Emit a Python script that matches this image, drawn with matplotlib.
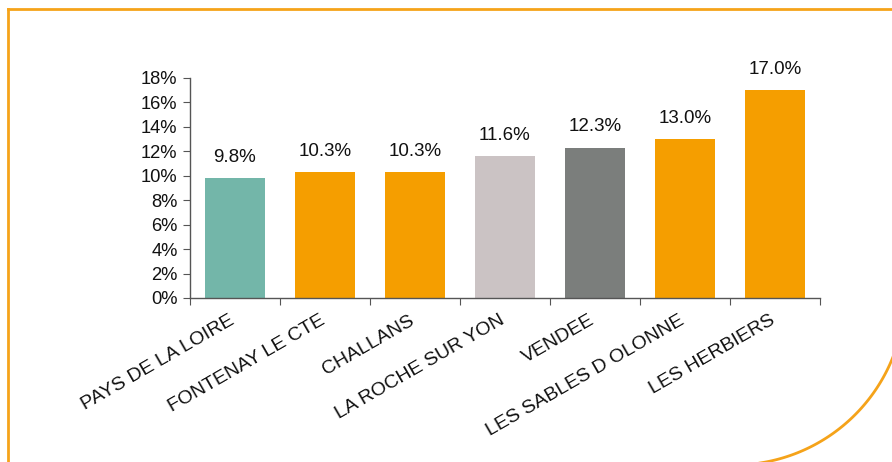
import numpy as np
import matplotlib
matplotlib.use("Agg")
import matplotlib.pyplot as plt
import matplotlib.transforms as mtransforms

plt.rcParams['font.family'] = ['Liberation Sans', 'DejaVu Sans']

# data
categories = ["PAYS DE LA LOIRE", "FONTENAY LE CTE", "CHALLANS", "LA ROCHE SUR YON",
              "VENDEE", "LES SABLES D OLONNE", "LES HERBIERS"]
values = [9.8, 10.3, 10.3, 11.6, 12.3, 13.0, 17.0]
value_labels = ["9.8%", "10.3%", "10.3%", "11.6%", "12.3%", "13.0%", "17.0%"]
colors = ["#73b6a9", "#f59e00", "#f59e00", "#cbc3c4", "#7b7e7c", "#f59e00", "#f59e00"]
yticks = [0, 2, 4, 6, 8, 10, 12, 14, 16, 18]

W, H = 892, 462
fig = plt.figure(figsize=(W / 100, H / 100), dpi=100)

# frame around the chart (left + top edge, big rounded corner bottom right)
bg = fig.add_axes([0, 0, 1, 1])
bg.set_xlim(0, W)
bg.set_ylim(H, 0)
bg.axis("off")
frame_col = "#f5a31a"
bg.plot([8, 8], [9, H], color=frame_col, lw=2)
bg.plot([8, W], [9, 9], color=frame_col, lw=2)
t = np.linspace(0, np.pi / 2, 100)
cx, cy, r = 734, 294, 171
bg.plot(cx + r * np.cos(t), cy + r * np.sin(t), color=frame_col, lw=2)

ax = fig.add_axes([190 / W, (H - 298) / H, (820 - 190) / W, 220 / H])
x = np.arange(len(categories))
ax.bar(x, values, width=0.67, color=colors)

for xi, v, lab in zip(x, values, value_labels):
    ax.annotate(lab, (xi, v), xytext=(0, 9), textcoords="offset points",
                ha="center", va="bottom", fontsize=13.5, color="#111111")

ax.set_xlim(-0.5, len(categories) - 0.5)
ax.set_ylim(0, 18)
ax.set_yticks(yticks)
ax.set_yticklabels([f"{v}%" for v in yticks], fontsize=13.2, color="#111111")

# boundary ticks on major, names on minor
ax.set_xticks(np.arange(len(categories) + 1) - 0.5)
ax.set_xticklabels([])
ax.set_xticks(x, minor=True)
ax.set_xticklabels(categories, minor=True, rotation=30, ha="right",
                   rotation_mode="anchor", fontsize=14, color="#111111")
ax.tick_params(axis="x", which="minor", length=0, pad=10)
ax.tick_params(axis="x", which="major", length=5, color="#555555")
ax.tick_params(axis="y", length=5, color="#555555", pad=4)
shift = mtransforms.ScaledTranslation(-6 / 100, 0, fig.dpi_scale_trans)
for lbl in ax.get_xticklabels(minor=True):
    lbl.set_transform(lbl.get_transform() + shift)

for s in ["top", "right"]:
    ax.spines[s].set_visible(False)
for s in ["left", "bottom"]:
    ax.spines[s].set_color("#555555")
    ax.spines[s].set_linewidth(1)
ax.set_facecolor("none")

fig.savefig("out.png", dpi=100)
